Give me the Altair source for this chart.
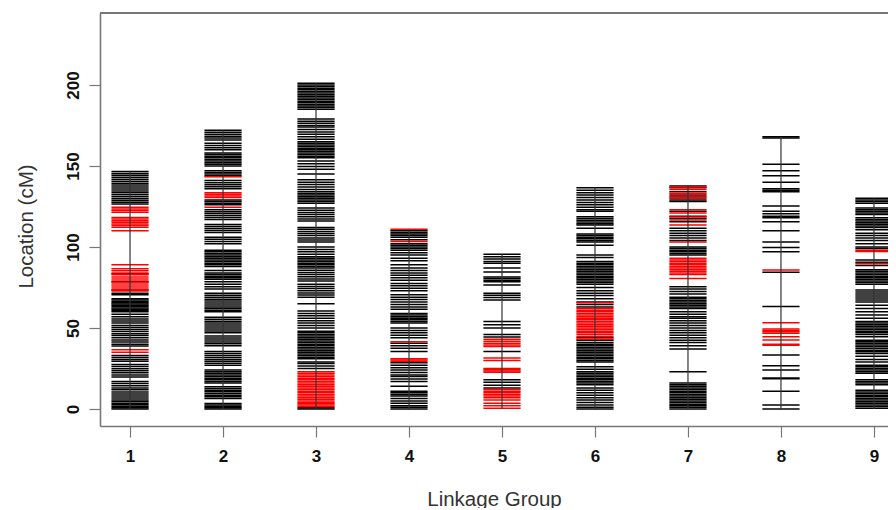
import altair as alt
import pandas as pd

groups = [1, 2, 3, 4, 5, 6, 7, 8, 9]
group_max = [146.6, 172, 201, 111, 95.5, 136.6, 137.7, 168, 130]

g1_black = [0, 0.8, 1.7, 2.6, 3.5, 4.6, 5.6, 6.8, 8, 9.3, 10.5, 11.8, 13, 14.4, 15.8, 17,
            19.8, 21, 22.3, 23.6, 24.9, 26.2, 27.5, 29.5, 30.6, 31.8, 33, 38.8, 40, 41.3,
            42.6, 44, 45.3, 46.5, 47.8, 49, 50.3, 51.6, 53, 54.3, 55.6, 57, 58.4, 60, 60.8,
            61.6, 62.4, 63.2, 64, 64.8, 65.6, 66.4, 67.2, 68, 70.5, 71.5, 73.5, 78.5, 83.5,
            126.5, 127.6, 128.7, 129.8, 131, 132.2, 133.4, 134.6, 135.8, 137, 138.2, 139.4,
            140.6, 141.8, 143, 144.2, 145.4, 146.6]
g1_red = [35, 36.5, 72.8, 74, 75.3, 76.5, 77.8, 79, 80.3, 81.5, 82.8, 84, 85.3, 86.5, 89,
          110, 112.2, 113.2, 114.2, 115.2, 116.2, 117.2, 118.2, 121.5, 122.5, 123.5, 124.5]

g2_black = [0, 0.8, 1.6, 2.4, 3.4, 6.5, 7.5, 8.5, 9.5, 10.6, 11.6, 12.6, 13.8, 16, 17, 18,
            19, 20, 21, 22, 23, 24, 27, 28.2, 29.4, 30.6, 31.8, 33, 34.2, 35.5, 39, 40.2,
            41.4, 42.6, 43.8, 45, 47, 48.2, 49.4, 50.6, 51.8, 53, 54.2, 55.4, 56.6, 60, 61,
            62, 63, 64.2, 65.4, 66.6, 67.8, 69, 70.2, 71.4, 74, 75.5, 77, 78.5, 80, 81, 82,
            83, 84, 85.5, 88, 89, 90, 91, 92, 93, 94, 95, 96, 97, 98, 102, 103.4, 104.8, 106,
            109, 110.2, 111.4, 112.6, 113.8, 117, 118.2, 119.4, 120.6, 121.8, 123, 126, 127,
            128, 129, 136, 137.2, 138.4, 139.6, 141, 144, 145, 146, 147, 150, 151, 152, 153,
            154, 155, 156, 157, 158, 160, 161.3, 162.6, 164, 166, 167.2, 168.4, 169.6, 170.8, 172]
g2_red = [124.5, 130.5, 131.5, 132.5, 133.5, 143.4]

g3_black = [0, 0.8, 25, 26.5, 28, 29, 31, 32, 33, 34, 35, 36, 37, 38, 39, 40, 41, 42, 43, 44,
            45, 46, 47, 48, 50, 51.5, 53, 54.5, 56, 57.5, 59, 60.5, 65, 69, 70.3, 71.6, 73,
            74.3, 75.6, 77, 79, 80.3, 81.6, 83, 84.3, 85.6, 87, 88, 89, 90, 91, 92, 93, 94,
            95.5, 97, 98.5, 100, 103, 104.3, 105.6, 107, 108.3, 109.6, 111, 112, 116, 117.3,
            118.6, 120, 121.3, 122.6, 124, 127, 128, 129, 130, 131, 132, 133, 134, 135.5, 137,
            138.5, 140, 141.5, 145, 148, 149.7, 151.4, 153, 155, 156, 157, 158, 159, 160, 161,
            162, 163, 164, 165, 166.5, 168, 169.5, 171, 172.5, 174, 175, 176.3, 177.6, 179,
            185, 186, 187, 188, 189, 190, 191, 192, 193, 194, 195, 196, 197, 198, 199, 200, 201]
g3_red = [1.6, 2.4, 3.2, 4, 5, 6, 7, 8, 9, 10, 11, 12, 13, 14, 15, 16, 17, 18, 19, 20, 21,
          22, 23]

g4_black = [0, 1, 2, 3.5, 5, 6.5, 8, 9, 10, 11, 14, 17, 18.5, 20, 21, 22.5, 24, 25.5, 27,
            28.5, 35.5, 37.5, 39, 40.5, 44, 45.5, 47, 48.5, 50, 53, 54, 55, 56, 57, 58, 59,
            61.5, 63, 64.5, 66, 67.5, 69, 70.5, 73, 74.5, 76, 77.5, 79.5, 81, 82.5, 84, 85.5,
            87, 89, 91.5, 93, 95, 96.5, 98, 99, 100, 101, 102, 104.5, 106, 107, 108, 109, 110]
g4_red = [29.4, 30.2, 31, 41.5, 103.3, 111]

g5_black = [13, 14.6, 16.5, 18, 35.5, 44.5, 46, 50, 52, 54, 67.3, 68.8, 70.2, 71.5, 76.5,
            78.6, 79.5, 80.5, 81.5, 84.5, 87, 90, 91, 92.5, 94, 95.5]
g5_red = [0.5, 2, 3.5, 5.5, 7, 8, 9, 10, 11, 12, 22.6, 23.4, 24.2, 25, 30, 31.5, 38.5,
          39.5, 40.6, 41.8, 43]

g6_black = [0, 1, 2.5, 4, 5.5, 7, 8.5, 10, 11.5, 13, 15, 16, 17, 18, 19, 20, 21, 22, 23,
            24.5, 26, 29, 30, 31, 32, 33, 34, 35, 36, 37, 38, 39, 40, 41, 42.5, 44, 63, 64.5,
            66, 68, 70, 71.5, 73, 75, 77, 78, 79, 80, 81, 82, 83, 84, 85, 86, 87, 88, 89, 90,
            91, 93.5, 95, 101, 103, 104, 105, 106, 107, 108, 111.5, 113.5, 114.3, 115.4,
            116.5, 117.6, 118.7, 122, 123, 124.5, 126, 127.5, 129, 130.5, 132, 133.5, 135, 136.6]
g6_red = [43, 44.7, 46, 47, 48, 49, 50, 51, 52, 53, 54, 55, 56, 57, 58, 59, 60, 61, 62, 65.5]

g7_black = [0, 1, 2, 3, 4, 5, 6, 7, 8, 9, 10, 11, 12, 13, 14, 15, 16, 23, 37, 39, 41, 42.5,
            44, 45.5, 47, 48.5, 50, 51.5, 53, 54.5, 56, 57, 58.5, 60, 62, 63, 64, 65, 66, 67,
            68, 69, 71, 72.5, 74, 75.5, 95, 96, 97, 98, 99, 100, 104, 105.5, 107, 108.5, 110,
            111.5, 115.6, 117.5, 119, 122, 128, 129, 131.5, 134, 136.5, 137.7]
g7_red = [80.5, 83, 84, 85, 86, 87, 88, 89, 90, 91, 92, 93, 103, 113.5, 116.6, 118.5, 121,
          123, 130, 130.5, 132.5, 133, 135.5, 137]

g8_black = [0, 2.4, 11, 18.6, 19.2, 24, 26.7, 33.3, 63.2, 84.4, 97, 99.6, 103, 110, 115.6,
            118, 119, 120.5, 122, 125.3, 134, 135, 136, 140, 144, 147, 151, 167.3, 168]
g8_red = [39.3, 39.9, 42.6, 44.6, 46.7, 47.6, 48.5, 49.4, 53.3, 85.8]

g9_black = [0.5, 1.5, 2.5, 3.5, 4.5, 5.5, 6.5, 7.5, 8.5, 9.5, 10.5, 11.5, 15, 16, 17, 18,
            22, 23, 24, 25, 26, 27, 29, 30.5, 32.5, 34.3, 35.3, 36.3, 37.5, 38.5, 39.5, 40.5,
            41.5, 42.5, 44.6, 46, 47, 48, 49, 50, 51, 52, 53, 54, 56, 58, 60, 62, 64, 66,
            67.3, 68.5, 69.7, 71, 72.2, 73.5, 77, 78, 79, 80, 81, 82, 83, 84, 85, 86, 88.6,
            90.5, 92, 99, 100, 102, 104, 105.5, 107, 108.5, 110.6, 112, 113, 114, 115, 116,
            117, 118, 120, 121, 122, 123, 124, 127, 128, 129, 130]
g9_red = [89.7, 97.2, 98]

black_sets = [g1_black, g2_black, g3_black, g4_black, g5_black, g6_black, g7_black, g8_black, g9_black]
red_sets = [g1_red, g2_red, g3_red, g4_red, g5_red, g6_red, g7_red, g8_red, g9_red]

rows = []
for g, blk, red in zip(groups, black_sets, red_sets):
    for p in blk:
        rows.append({"group": g, "pos": p, "kind": "black"})
    for p in red:
        rows.append({"group": g, "pos": p, "kind": "red"})
markers = pd.DataFrame(rows)
spine_df = pd.DataFrame({"group": groups, "top": group_max})

W, H = 788, 413
GRAY = "#777777"
FONT = "Liberation Sans"

xscale = alt.Scale(domain=[0.677, 9.151], nice=False, zero=False)
yscale = alt.Scale(domain=[-10.5, 244.4], nice=False, zero=False)

x_axis = alt.Axis(
    values=groups, format="d", title="Linkage Group",
    labelFont=FONT, labelFontSize=17, labelFontWeight="bold", labelColor="#111111",
    labelPadding=11, tickSize=11, tickColor=GRAY, tickWidth=1.2,
    domainColor=GRAY, domainWidth=1.6, grid=False,
    titleFont=FONT, titleFontSize=20.5, titleFontWeight="normal", titleColor="#333333",
    titleY=63, titleBaseline="top",
)
y_axis = alt.Axis(
    values=[0, 50, 100, 150, 200], title="Location (cM)",
    labelFont=FONT, labelFontSize=17, labelFontWeight="bold", labelColor="#111111",
    labelAngle=270, labelAlign="center", labelBaseline="bottom", labelPadding=7,
    tickSize=11, tickColor=GRAY, tickWidth=1.2,
    domainColor=GRAY, domainWidth=1.6, grid=False,
    titleFont=FONT, titleFontSize=20.5, titleFontWeight="normal", titleColor="#333333",
    titleAngle=270, titleX=-64, titleY=213, titleBaseline="bottom", titleAlign="center",
)

ticks = alt.Chart(markers).transform_calculate(
    x1="datum.group - 0.2", x2="datum.group + 0.2"
).mark_rule(strokeWidth=1.5).encode(
    x=alt.X("x1:Q", scale=xscale, axis=x_axis),
    x2="x2:Q",
    y=alt.Y("pos:Q", scale=yscale, axis=y_axis),
    color=alt.Color("kind:N", scale=alt.Scale(domain=["black", "red"], range=["#000000", "#ff0000"]), legend=None),
)

spines = alt.Chart(spine_df).transform_calculate(bottom="0").mark_rule(
    color="#333333", strokeWidth=1.2
).encode(
    x=alt.X("group:Q", scale=xscale),
    y=alt.Y("bottom:Q", scale=yscale),
    y2="top:Q",
)

top_line = alt.Chart(spine_df).mark_rule(color=GRAY, strokeWidth=1.6).encode(
    x=alt.value(0), x2=alt.value(W), y=alt.value(0)
)

chart = alt.layer(ticks, spines, top_line).properties(
    width=W, height=H,
    autosize=alt.AutoSizeParams(type="none"),
    padding={"left": 92, "top": 5, "right": 0, "bottom": 82},
    background="white",
).configure_view(stroke=None)

chart.save("out.html", embed_options={"renderer": "svg", "actions": False})
